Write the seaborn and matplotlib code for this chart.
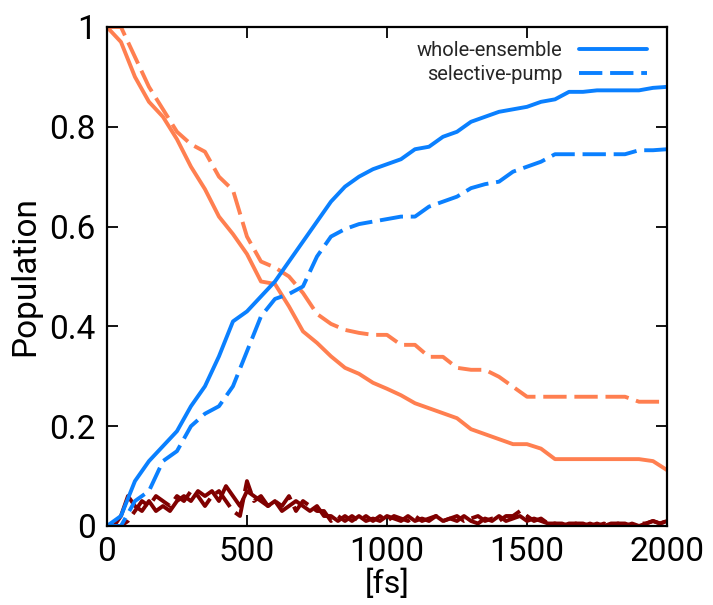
import numpy as np
import pandas as pd
import seaborn as sns
import matplotlib
matplotlib.use("Agg")
import matplotlib.pyplot as plt
from matplotlib.lines import Line2D
from matplotlib.ticker import FuncFormatter

# time grids [fs]
t_main = np.arange(0, 2001, 50)
t_fine = np.arange(0, 2001, 25)

# whole-ensemble (solid) / selective-pump (dashed)
s1_whole = [0.0, 0.02, 0.09, 0.13, 0.16, 0.19, 0.24, 0.28, 0.34, 0.41,
            0.43, 0.46, 0.49, 0.53, 0.57, 0.61, 0.65, 0.68, 0.70, 0.715,
            0.725, 0.735, 0.755, 0.76, 0.78, 0.79, 0.81, 0.82, 0.83, 0.835,
            0.84, 0.85, 0.855, 0.87, 0.87, 0.873, 0.873, 0.873, 0.873, 0.878,
            0.88]
s1_select = [0.0, 0.0, 0.05, 0.07, 0.13, 0.15, 0.20, 0.225, 0.24, 0.28,
             0.35, 0.42, 0.455, 0.465, 0.48, 0.54, 0.58, 0.595, 0.605, 0.61,
             0.615, 0.62, 0.62, 0.64, 0.65, 0.66, 0.677, 0.685, 0.69, 0.71,
             0.72, 0.73, 0.745, 0.745, 0.745, 0.745, 0.745, 0.745, 0.753, 0.753,
             0.755]
s2_whole = [1.0, 0.97, 0.90, 0.85, 0.82, 0.775, 0.72, 0.675, 0.62, 0.585,
            0.545, 0.49, 0.485, 0.44, 0.39, 0.367, 0.34, 0.317, 0.305, 0.287,
            0.275, 0.262, 0.246, 0.236, 0.226, 0.216, 0.194, 0.184, 0.174, 0.164,
            0.164, 0.155, 0.134, 0.134, 0.134, 0.134, 0.134, 0.134, 0.134, 0.13,
            0.112]
s2_select = [1.0, 1.0, 0.94, 0.88, 0.835, 0.79, 0.765, 0.75, 0.70, 0.673,
             0.58, 0.53, 0.518, 0.50, 0.467, 0.425, 0.405, 0.393, 0.387, 0.383,
             0.383, 0.363, 0.363, 0.339, 0.339, 0.317, 0.313, 0.313, 0.299, 0.279,
             0.259, 0.259, 0.259, 0.259, 0.259, 0.259, 0.259, 0.259, 0.249, 0.249,
             0.249]
s3_whole = [0.0, 0.0, 0.02, 0.06, 0.04, 0.03, 0.05, 0.03, 0.04, 0.03,
            0.05, 0.06, 0.05, 0.07, 0.06, 0.07, 0.05, 0.08, 0.06, 0.04,
            0.07, 0.06, 0.05, 0.04, 0.05, 0.03, 0.04, 0.05, 0.04, 0.03,
            0.04, 0.02, 0.02, 0.01, 0.02, 0.01, 0.02, 0.01, 0.015, 0.01,
            0.02, 0.015, 0.01, 0.02, 0.01, 0.015, 0.01, 0.02, 0.01, 0.015,
            0.01, 0.02, 0.01, 0.005, 0.015, 0.01, 0.02, 0.01, 0.015, 0.02,
            0.01, 0.015, 0.01, 0.005, 0.005, 0.005, 0.0, 0.005, 0.005, 0.0,
            0.005, 0.0, 0.005, 0.005, 0.0, 0.005, 0.0, 0.005, 0.01, 0.005,
            0.01]
s3_select = [0.0, 0.0, 0.0, 0.01, 0.03, 0.05, 0.04, 0.06, 0.05, 0.04,
             0.06, 0.05, 0.07, 0.06, 0.04, 0.06, 0.07, 0.05, 0.03, 0.02,
             0.09, 0.05, 0.06, 0.04, 0.05, 0.04, 0.06, 0.03, 0.05, 0.04,
             0.03, 0.03, 0.01, 0.02, 0.01, 0.02, 0.01, 0.02, 0.01, 0.02,
             0.01, 0.02, 0.015, 0.01, 0.02, 0.01, 0.015, 0.02, 0.01, 0.015,
             0.02, 0.01, 0.015, 0.02, 0.01, 0.015, 0.01, 0.02, 0.02, 0.03,
             0.02, 0.01, 0.015, 0.005, 0.005, 0.0, 0.005, 0.005, 0.0, 0.005,
             0.0, 0.005, 0.0, 0.005, 0.005, 0.0, 0.005, 0.005, 0.01, 0.005,
             0.01]

blue = "#0a80ff"
orange = "#ff7f50"
darkred = "#800000"
dash = (0, (6, 2))

sns.set_style("ticks")
plt.rcParams["font.family"] = ["Roboto", "DejaVu Sans"]

fig = plt.figure(figsize=(7.13, 6.05), dpi=100)
ax = fig.add_axes([0.150, 0.1306, 0.7855, 0.8248])

series = [
    (t_fine, s3_whole, darkred, "-"),
    (t_fine, s3_select, darkred, dash),
    (t_main, s2_whole, orange, "-"),
    (t_main, s2_select, orange, dash),
    (t_main, s1_whole, blue, "-"),
    (t_main, s1_select, blue, dash),
]
for t, vals, col, ls in series:
    d = pd.DataFrame({"t": t, "p": vals})
    sns.lineplot(data=d, x="t", y="p", ax=ax, color=col, linestyle=ls,
                 linewidth=2.8, estimator=None, legend=False)

ax.set_xlim(0, 2000)
ax.set_ylim(0, 1)
ax.set_xticks([0, 500, 1000, 1500, 2000])
ax.set_yticks([0, 0.2, 0.4, 0.6, 0.8, 1.0])
ax.yaxis.set_major_formatter(FuncFormatter(lambda v, p: "%g" % v))
ax.tick_params(direction="in", length=8, width=1.3, top=True, right=True,
               labelsize=24, colors="black")
ax.tick_params(axis="x", pad=7)
ax.tick_params(axis="y", pad=8)
for s in ax.spines.values():
    s.set_visible(True)
    s.set_linewidth(1.6)
    s.set_color("black")

ax.set_xlabel("[fs]", fontsize=23, color="black")
ax.xaxis.set_label_coords(0.5, -0.086)
ax.set_ylabel("Population", fontsize=24, labelpad=6, color="black")

handles = [Line2D([], [], color=blue, lw=2.8, linestyle="-"),
           Line2D([], [], color=blue, lw=2.8, linestyle=dash)]
ax.legend(handles, ["whole-ensemble", "selective-pump"], loc="upper right",
          frameon=False, markerfirst=False, handlelength=3.4, fontsize=14.5,
          borderaxespad=0.3, labelspacing=0.25, bbox_to_anchor=(0.99, 1.0))

fig.savefig("out.png", dpi=100)
